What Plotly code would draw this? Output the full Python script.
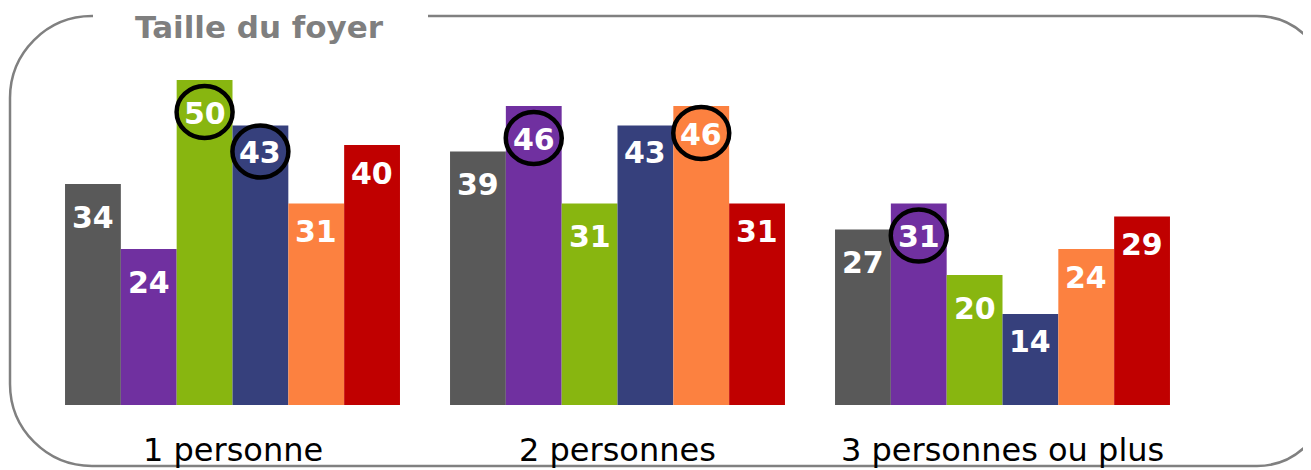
import plotly.graph_objects as go

# ---- data ----
categories = ["1 personne", "2 personnes", "3 personnes ou plus"]
series_names = ["S1", "S2", "S3", "S4", "S5", "S6"]
s1 = [34, 39, 27]
s2 = [24, 46, 31]
s3 = [50, 31, 20]
s4 = [43, 43, 14]
s5 = [31, 46, 24]
s6 = [40, 31, 29]
series_values = [s1, s2, s3, s4, s5, s6]
# which labels are circled (per series, per category)
circled = [
    [False, False, False],
    [False, True, True],
    [True, False, False],
    [True, False, False],
    [False, True, False],
    [False, False, False],
]
title_text = "Taille du foyer"

# ---- style ----
colors = ["#595959", "#7030A0", "#88B610", "#36407C", "#FC8140", "#C00000"]
label_offsets = [35, 35, 35, 29, 30, 30]  # px below bar top
OX, OY = 8, 8  # page body margin
W, H = 1311 - OX, 470 - OY
ML, MR, MT, MB = 40 - OX, 116, 40 - OY, 65
bar_w = 0.145
YMAX = 50 * 365 / 325

def px_x(p):
    return (p - OX - ML) / (W - ML - MR)

def px_y(p):
    return (H - MB - (p - OY)) / (H - MT - MB)

fig = go.Figure()
for k, (name, vals) in enumerate(zip(series_names, series_values)):
    xs = [g + (k - 2.5) * bar_w for g in range(len(categories))]
    fig.add_trace(go.Bar(x=xs, y=vals, width=bar_w, name=name,
                         marker=dict(color=colors[k], line=dict(width=0)),
                         showlegend=False, hoverinfo="skip"))

annotations = []
shapes = []
for k, vals in enumerate(series_values):
    for g, v in enumerate(vals):
        x = g + (k - 2.5) * bar_w
        annotations.append(dict(
            x=x, y=v, xref="x", yref="y", text=str(v), showarrow=False,
            yanchor="middle", xanchor="center", yshift=-label_offsets[k] + 2,
            font=dict(family="DejaVu Sans", size=30, color="white", weight="bold")))
        if circled[k][g]:
            cy = -label_offsets[k] + 3
            shapes.append(dict(
                type="circle", xref="x", yref="y", xsizemode="pixel", ysizemode="pixel",
                xanchor=x, yanchor=v, x0=-28, x1=28, y0=cy - 26, y1=cy + 26,
                line=dict(color="black", width=4.5), fillcolor="rgba(0,0,0,0)", layer="above"))

for g, c in enumerate(categories):
    annotations.append(dict(
        x=g, y=0, xref="x", yref="y", text=c, showarrow=False,
        yanchor="middle", xanchor="center", yshift=-45,
        font=dict(family="DejaVu Sans", size=32, color="black")))

annotations.append(dict(
    x=px_x(259), y=px_y(27), xref="paper", yref="paper", text=title_text,
    showarrow=False, xanchor="center", yanchor="middle",
    font=dict(family="DejaVu Sans", size=31, color="#7F7F7F", weight="bold")))

# rounded border with a gap for the title
L, T, R, B = 10, 16, 1327, 466
rl, rr = 82, 70
k_ = 0.5523
def P(x, y):
    return f"{px_x(x):.5f},{px_y(y):.5f}"

path = (
    f"M {P(428, T)} L {P(R - rr, T)} "
    f"C {P(R - rr + rr * k_, T)} {P(R, T + rr - rr * k_)} {P(R, T + rr)} "
    f"L {P(R, B - rr)} "
    f"C {P(R, B - rr + rr * k_)} {P(R - rr + rr * k_, B)} {P(R - rr, B)} "
    f"L {P(L + rl, B)} "
    f"C {P(L + rl - rl * k_, B)} {P(L, B - rl + rl * k_)} {P(L, B - rl)} "
    f"L {P(L, T + rl)} "
    f"C {P(L, T + rl - rl * k_)} {P(L + rl - rl * k_, T)} {P(L + rl, T)} "
    f"L {P(93, T)}"
)
shapes.append(dict(type="path", xref="paper", yref="paper", path=path,
                   line=dict(color="#808080", width=2.5), layer="below"))

fig.update_layout(
    width=W, height=H,
    margin=dict(l=ML, r=MR, t=MT, b=MB),
    paper_bgcolor="white", plot_bgcolor="white",
    barmode="overlay",
    xaxis=dict(range=[-0.5, 2.5], visible=False, fixedrange=True),
    yaxis=dict(range=[0, YMAX], visible=False, fixedrange=True),
    annotations=annotations, shapes=shapes,
)

fig.write_html("out.html", config={"displayModeBar": False})
